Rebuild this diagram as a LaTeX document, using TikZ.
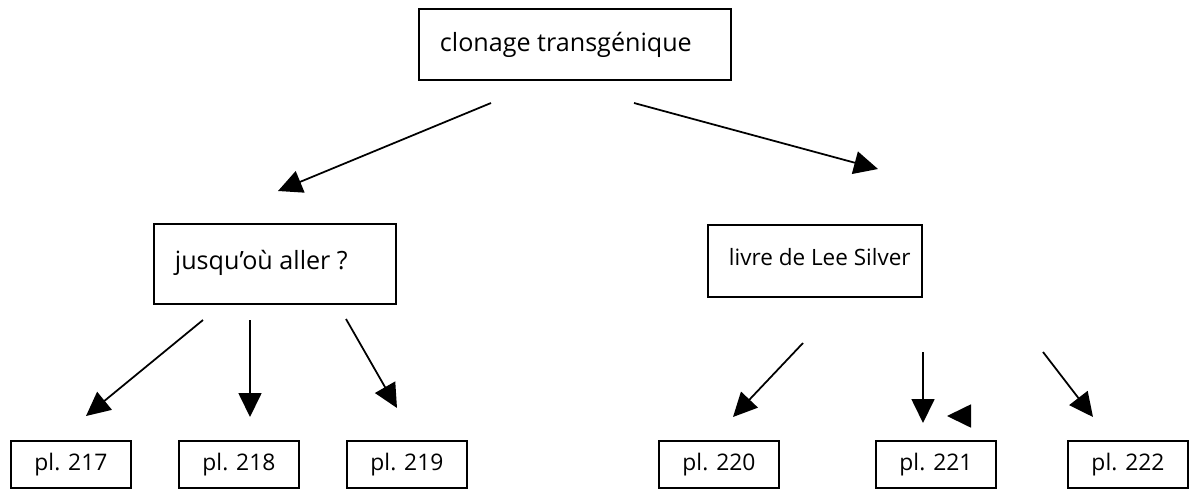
\documentclass[tikz,border=0pt]{standalone}
\usepackage{fontspec}
\setmainfont{Open Sans}
\usetikzlibrary{arrows.meta}

\tikzset{
  bigbox/.style={draw, line width=1.1pt, anchor=north west, inner xsep=0.42cm, font=\fontsize{14.3}{17}\selectfont},
  plbox/.style={draw, line width=1.1pt, anchor=north west, minimum width=2.4cm, minimum height=0.94cm, inner sep=0pt, font=\fontsize{13}{16}\selectfont},
  arr/.style={line width=1pt, -{Triangle[length=0.48cm, width=0.46cm]}}
}

\begin{document}
\begin{tikzpicture}[x=0.02cm, y=-0.02cm]
\useasboundingbox (0,0) rectangle (1193,490);

\node[bigbox, minimum width=6.24cm, minimum height=1.42cm] (clonage) at (418,8) {\makebox[5.4cm][l]{\raisebox{3.5pt}{clonage transgénique}}};
\node[bigbox, minimum width=4.84cm, minimum height=1.6cm] (jusquou) at (153,223) {\makebox[4cm][l]{\raisebox{4.5pt}{jusqu’où aller ?}}};
\node[bigbox, minimum width=4.28cm, minimum height=1.44cm, font=\fontsize{12.8}{16}\selectfont] (silver) at (707,224) {\makebox[3.44cm][l]{\raisebox{4.5pt}{livre de Lee Silver}}};

\node[plbox] (pl217) at (10,440) {pl. 217};
\node[plbox] (pl218) at (178,440) {pl. 218};
\node[plbox] (pl219) at (346,440) {pl. 219};
\node[plbox] (pl220) at (658,440) {pl. 220};
\node[plbox] (pl221) at (875,440) {pl. 221};
\node[plbox] (pl222) at (1067,440) {pl. 222};

% arrow ends
\coordinate (clonage-l) at (491,103);
\coordinate (jusquou-t) at (278,191);
\coordinate (clonage-r) at (634,103);
\coordinate (silver-t) at (878,169);

\coordinate (jusquou-1) at (203,320);
\coordinate (jusquou-2) at (250,320);
\coordinate (jusquou-3) at (346,319);
\coordinate (pl217-t) at (86,416);
\coordinate (pl218-t) at (250,417);
\coordinate (pl219-t) at (397,408);

\coordinate (silver-1) at (803,343);
\coordinate (silver-2) at (923,352);
\coordinate (silver-3) at (1043,352);
\coordinate (pl220-t) at (733,417);
\coordinate (pl221-t) at (923,423);
\coordinate (pl222-t) at (1093,417);
\coordinate (stray-a) at (970,416);
\coordinate (stray-b) at (947,416);

\draw[arr] (clonage-l) -- (jusquou-t);
\draw[arr] (clonage-r) -- (silver-t);

\draw[arr] (jusquou-1) -- (pl217-t);
\draw[arr] (jusquou-2) -- (pl218-t);
\draw[arr] (jusquou-3) -- (pl219-t);

\draw[arr] (silver-1) -- (pl220-t);
\draw[arr] (silver-2) -- (pl221-t);
\draw[arr] (silver-3) -- (pl222-t);
\draw[arr] (stray-a) -- (stray-b);

\end{tikzpicture}
\end{document}
